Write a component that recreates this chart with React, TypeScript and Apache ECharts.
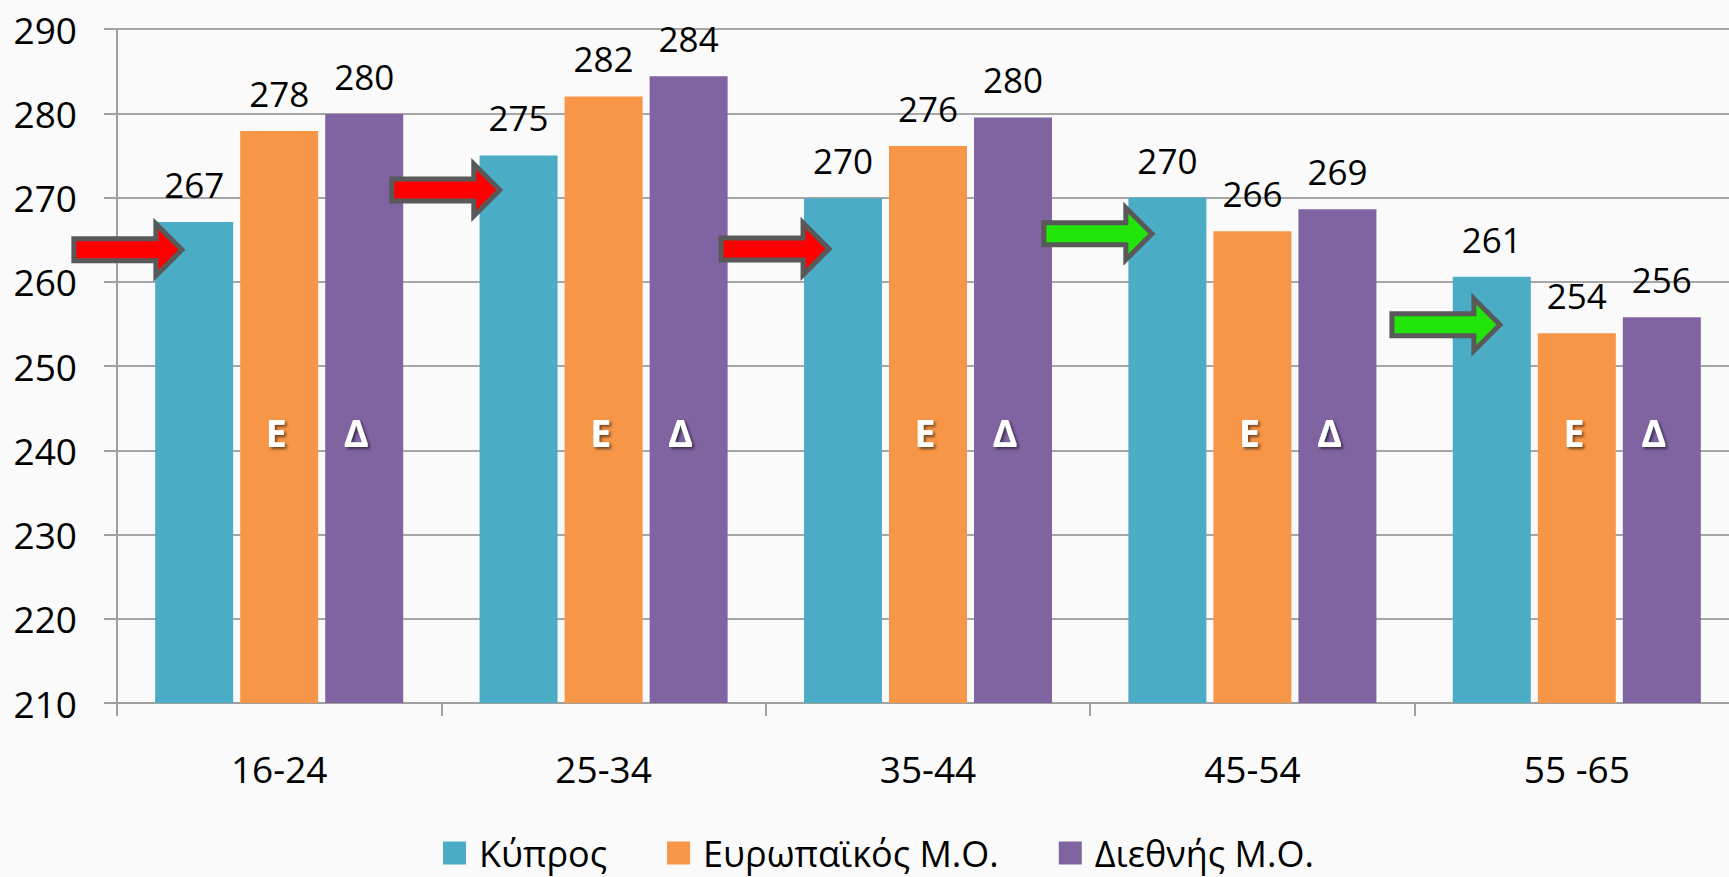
import React, { useEffect, useRef } from "react";
import * as echarts from "echarts";

const categories = ["16-24", "25-34", "35-44", "45-54", "55 -65"];
const kyprosValues = [267.1, 275.0, 269.9, 270.0, 260.6];
const europeValues = [277.9, 282.0, 276.1, 266.0, 253.9];
const intlValues = [279.9, 284.4, 279.5, 268.6, 255.8];
const seriesNames = ["Κύπρος", "Ευρωπαϊκός Μ.Ο.", "Διεθνής Μ.Ο."];
const seriesColors = ["#4BACC6", "#F79646", "#8064A2"];
const yTicks = { min: 210, max: 290, interval: 10 };

// annotation arrows: level (value units), tip shift (fraction of category band), colour
const arrowLevels = [263.8, 270.9, 263.9, 265.7, 254.9];
const arrowTipOffset = [-0.3, -0.32, -0.305, -0.31, -0.237];
const arrowColors = ["#FF0000", "#FF0000", "#FF0000", "#22E60A", "#22E60A"];
const letterLevel = 242.2;
const letters = ["Ε", "Δ"];

const FONT = "'Open Sans', 'DejaVu Sans', sans-serif";

export default function App() {
  const ref = useRef<HTMLDivElement>(null);

  useEffect(() => {
    if (!ref.current) return;
    const chart = echarts.init(ref.current, undefined, { renderer: "svg" });

    const barLabel = {
      show: true,
      position: "top",
      distance: 20,
      fontSize: 35,
      color: "#000",
      fontFamily: FONT,
      formatter: (p: any) => String(Math.round(p.value)),
    };

    const valuesList = [kyprosValues, europeValues, intlValues];

    const bars = valuesList.map((vals, i) => ({
      name: seriesNames[i],
      type: "bar",
      data: vals,
      barWidth: 78,
      barGap: "9%",
      itemStyle: { color: seriesColors[i] },
      label: barLabel,
      z: 2,
    }));

    const annotationData = categories.map((_, i) => [i, arrowLevels[i], arrowTipOffset[i]]);

    const annotations = {
      name: "annotations",
      type: "custom",
      z: 5,
      silent: true,
      data: annotationData,
      encode: { x: 0, y: 1 },
      renderItem: (params: any, api: any) => {
        const idx = api.value(0);
        const level = api.value(1);
        const shift = api.value(2);
        const c = api.coord([idx, level]);
        const band = api.size([1, 0])[0];
        const tipX = c[0] + shift * band;
        const y = c[1];
        const lc = api.coord([idx, letterLevel]);
        const textStyleBase = {
          fill: "#fff",
          fontSize: 38,
          fontWeight: "bold",
          fontFamily: FONT,
          align: "center",
          verticalAlign: "middle",
          textShadowColor: "rgba(0,0,0,0.55)",
          textShadowBlur: 3,
          textShadowOffsetX: 2,
          textShadowOffsetY: 2,
        };
        return {
          type: "group",
          children: [
            {
              type: "polygon",
              shape: {
                points: [
                  [tipX - 108, y - 11],
                  [tipX - 26, y - 11],
                  [tipX - 26, y - 26],
                  [tipX, y],
                  [tipX - 26, y + 26],
                  [tipX - 26, y + 11],
                  [tipX - 108, y + 11],
                ],
              },
              style: {
                fill: arrowColors[params.dataIndex],
                stroke: "#595959",
                lineWidth: 5,
                lineJoin: "miter",
              },
            },
            {
              type: "text",
              x: lc[0] - 3,
              y: lc[1],
              style: { ...textStyleBase, text: letters[0] },
            },
            {
              type: "text",
              x: lc[0] + 85 - 8,
              y: lc[1],
              style: { ...textStyleBase, text: letters[1] },
            },
          ],
        };
      },
    };

    chart.setOption({
      animation: false,
      backgroundColor: "#fafafa",
      textStyle: { fontFamily: FONT },
      grid: { left: 117, right: 9, top: 29, bottom: 174 },
      legend: {
        data: seriesNames,
        bottom: 6,
        left: 443,
        itemWidth: 23,
        itemHeight: 23,
        itemGap: 60,
        padding: 0,
        icon: "rect",
        textStyle: {
          fontSize: 36,
          color: "#000",
          fontFamily: FONT,
          padding: [0, 0, 0, 8],
        },
      },
      xAxis: {
        type: "category",
        data: categories,
        axisLine: { show: true, lineStyle: { color: "#a0a0a0", width: 2 } },
        axisTick: { show: true, length: 13, lineStyle: { color: "#a0a0a0", width: 2 } },
        axisLabel: { fontSize: 37, color: "#000", margin: 47, fontFamily: FONT },
        splitLine: { show: false },
      },
      yAxis: {
        type: "value",
        min: yTicks.min,
        max: yTicks.max,
        interval: yTicks.interval,
        axisLine: { show: true, lineStyle: { color: "#a0a0a0", width: 2 } },
        axisTick: { show: true, length: 13, lineStyle: { color: "#a0a0a0", width: 2 } },
        axisLabel: { fontSize: 37, color: "#000", margin: 40, fontFamily: FONT },
        splitLine: { show: true, lineStyle: { color: "#a6a6a6", width: 2 } },
      },
      series: [...bars, annotations],
    });

    return () => chart.dispose();
  }, []);

  return (
    <div
      ref={ref}
      style={{ position: "fixed", left: 0, top: 0, width: 1748, height: 877 }}
    />
  );
}
